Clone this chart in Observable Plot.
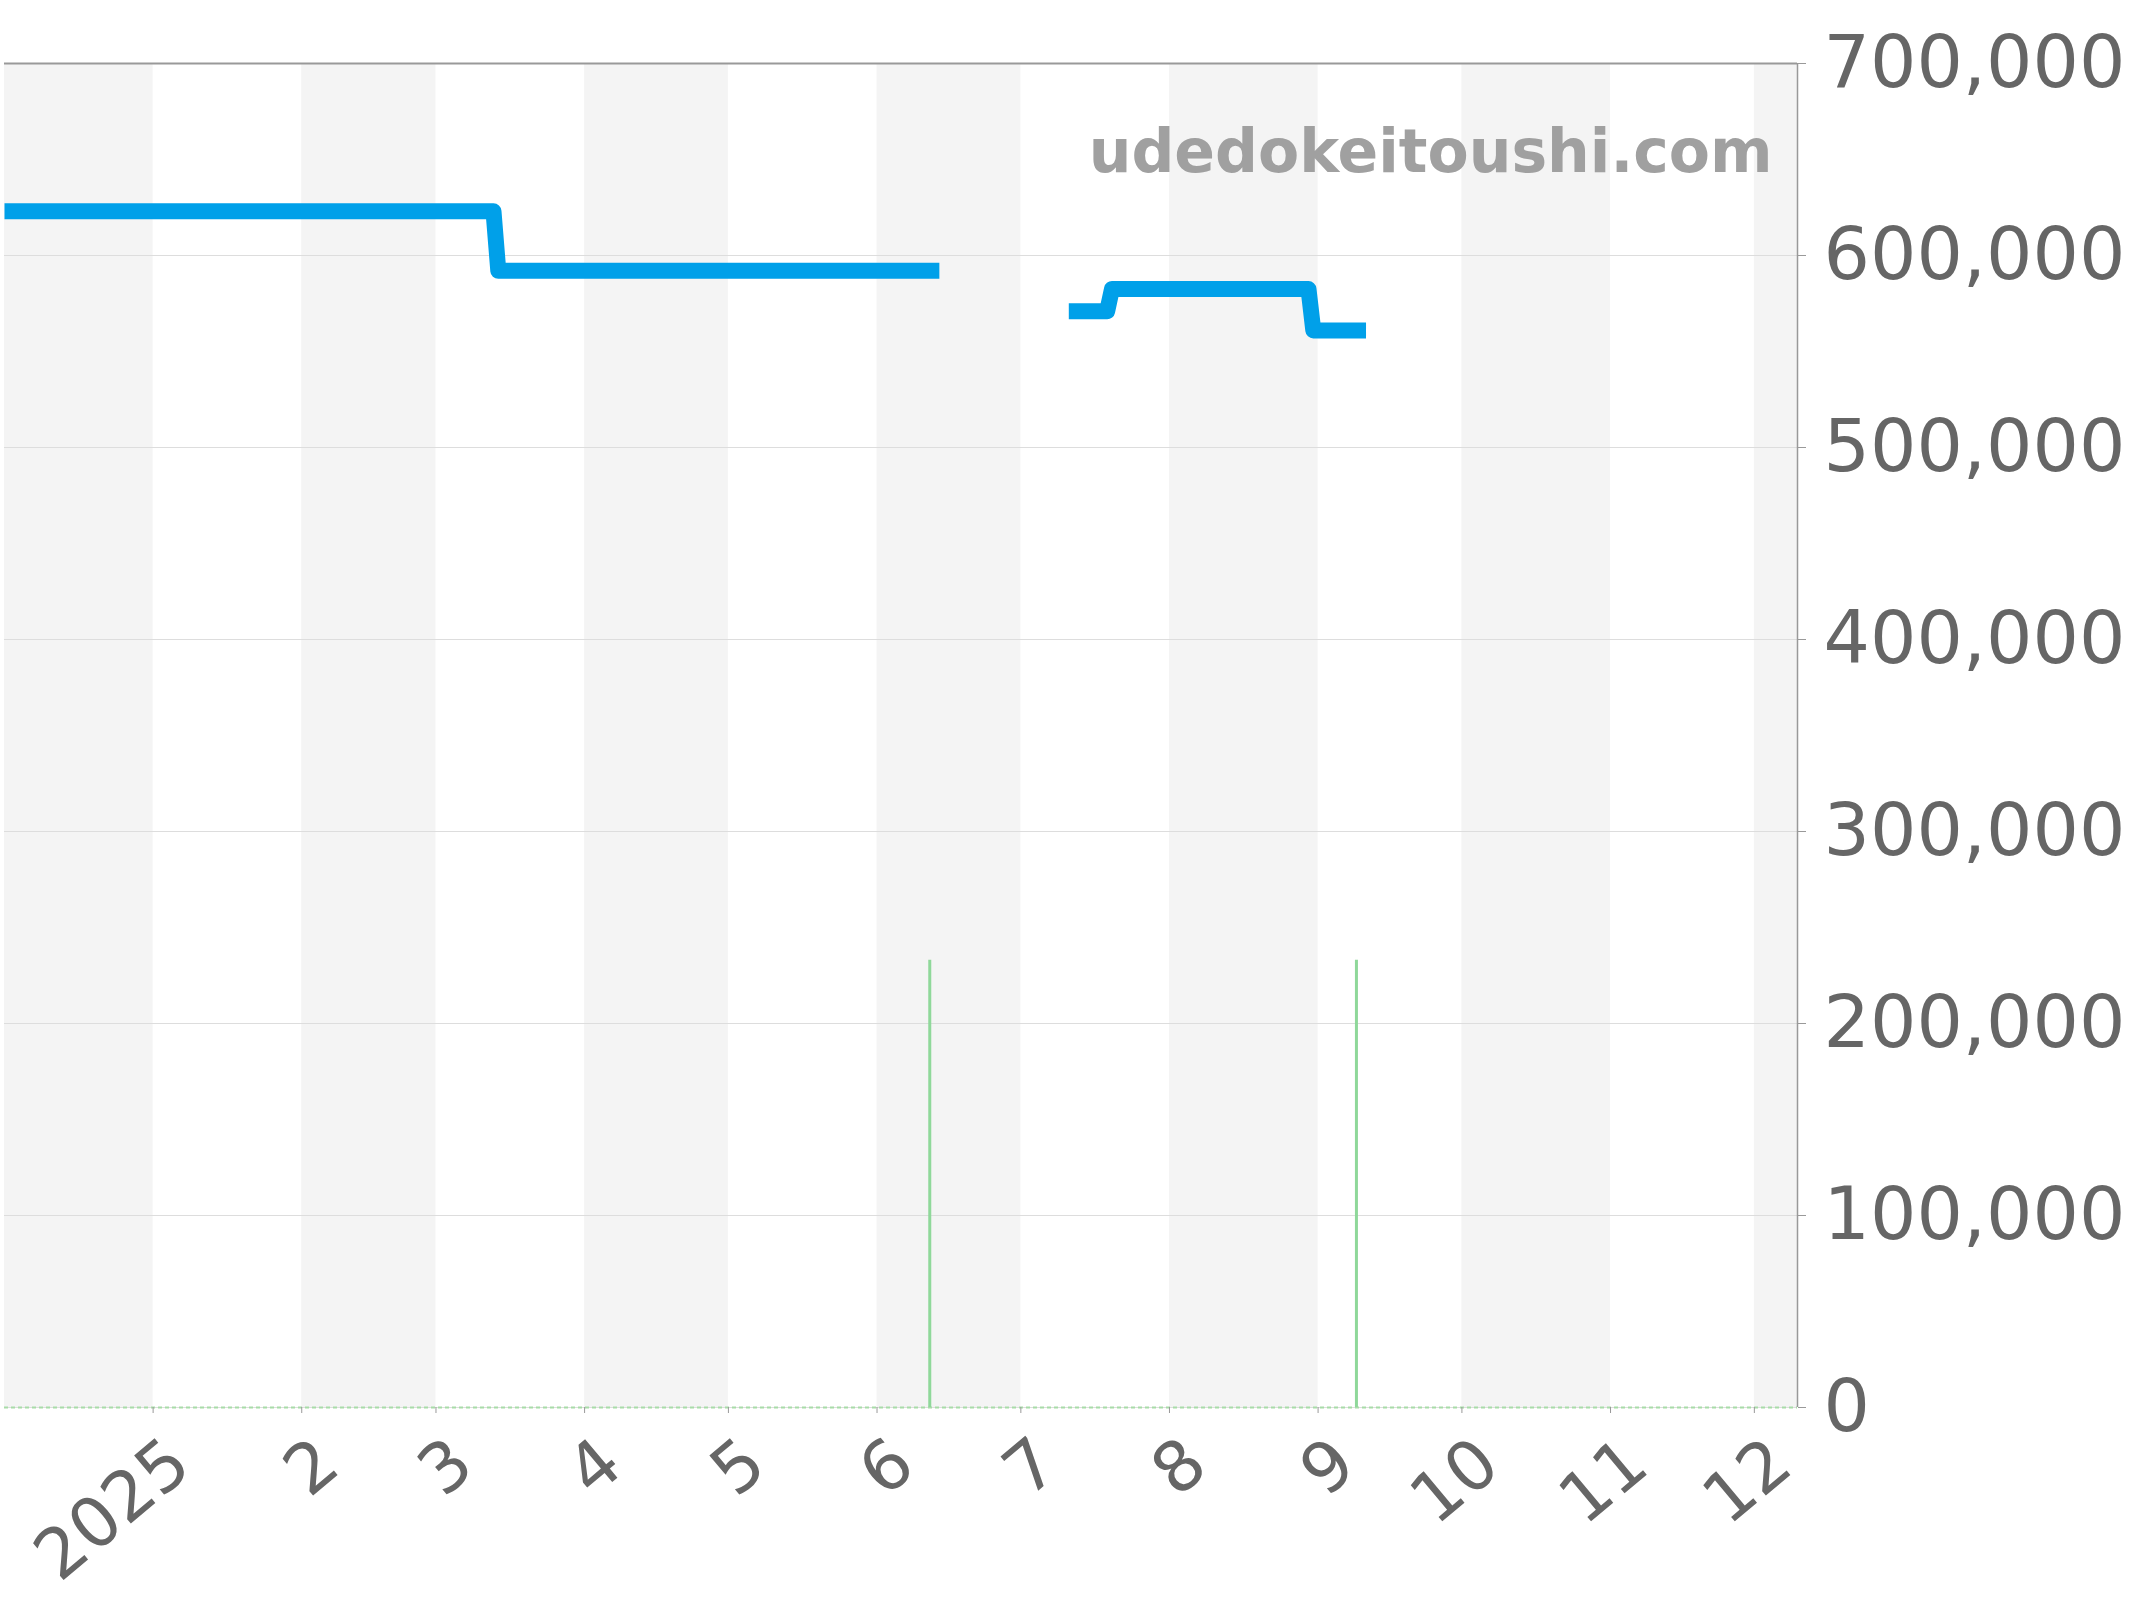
<!DOCTYPE html>
<html>
<head>
<meta charset="utf-8">
<script src="https://cdn.jsdelivr.net/npm/d3@7"></script>
<script src="https://cdn.jsdelivr.net/npm/@observablehq/plot@0.6"></script>
<style>
  html, body { margin: 0; padding: 0; background: #fff; }
  #chart svg { display: block; }
</style>
</head>
<body>
<div id="chart"></div>
<script>
// ---- data ----
const priceDates  = ["2024-12-01", "2025-03-13", "2025-03-14", "2025-06-14", "2025-06-15",
                     "2025-07-11", "2025-07-19", "2025-07-20", "2025-08-30", "2025-08-31", "2025-09-11"];
const priceValues = [623000, 623000, 592000, 592000, NaN,
                     571000, 571000, 582500, 582500, 561000, 561000];

const volumeDates  = ["2025-06-12", "2025-09-09"];
const volumeValues = [233000, 233000];

const monthTicks  = ["2025-01-01", "2025-02-01", "2025-03-01", "2025-04-01", "2025-05-01", "2025-06-01",
                     "2025-07-01", "2025-08-01", "2025-09-01", "2025-10-01", "2025-11-01", "2025-12-01"];
const monthLabels = ["2025", "2", "3", "4", "5", "6", "7", "8", "9", "10", "11", "12"];

const bandStarts = ["2024-12-01", "2025-02-01", "2025-04-01", "2025-06-01", "2025-08-01", "2025-10-01", "2025-12-01"];
const bandEnds   = ["2025-01-01", "2025-03-01", "2025-05-01", "2025-07-01", "2025-09-01", "2025-11-01", "2025-12-10"];

const yTicks = [0, 100000, 200000, 300000, 400000, 500000, 600000, 700000];
const watermark = "udedokeitoushi.com";

// ---- build ----
const parse = d3.utcParse("%Y-%m-%d");
const domainStart = parse("2024-12-01");
const domainEnd = parse("2025-12-10");

const price = priceDates.map((d, i) => ({date: parse(d), value: priceValues[i]}));
const volume = volumeDates.map((d, i) => ({date: parse(d), value: volumeValues[i]}));
const months = monthTicks.map((d, i) => ({date: parse(d), label: monthLabels[i]}));
const bands = bandStarts.map((d, i) => ({x1: parse(d), x2: parse(bandEnds[i])}));

const chart = Plot.plot({
  width: 2144,
  height: 1600,
  marginTop: 63,
  marginBottom: 193,
  marginLeft: 4,
  marginRight: 347,
  style: {fontFamily: "DejaVu Sans", color: "#666", background: "#fff"},
  x: {type: "utc", domain: [domainStart, domainEnd]},
  y: {domain: [0, 700000]},
  marks: [
    Plot.rect(bands, {x1: "x1", x2: "x2", y1: 0, y2: 700000, fill: "#f4f4f4"}),
    Plot.gridY(yTicks, {stroke: "#dddddd", strokeOpacity: 1, strokeWidth: 1}),
    Plot.ruleY([0], {stroke: "#a8dca8", strokeWidth: 2, strokeDasharray: "4,3"}),
    Plot.ruleX(volume, {x: "date", y1: 0, y2: "value", stroke: "#8fd89a", strokeWidth: 3}),
    Plot.line(price, {x: "date", y: "value", stroke: "#00a0e9", strokeWidth: 16,
                      strokeLinejoin: "round", strokeLinecap: "butt", defined: d => !isNaN(d.value)}),
    Plot.ruleY([700000], {stroke: "#999", strokeWidth: 2}),
    Plot.ruleX([domainEnd], {y1: 0, y2: 700000, stroke: "#999", strokeWidth: 1.5}),
    Plot.axisY({anchor: "right", ticks: yTicks, tickFormat: d3.format(","), tickSize: 8,
                tickPadding: 18, fontSize: 73, stroke: "#999", fill: "#666", label: null}),
    Plot.axisX({ticks: months.map(d => d.date), tickFormat: () => "", tickSize: 6,
                stroke: "#999", label: null}),
    Plot.text(months, {x: "date", text: "label", frameAnchor: "bottom", rotate: -40,
                       textAnchor: "end", lineAnchor: "middle", dx: 27, dy: 46,
                       fontSize: 69, fill: "#666"}),
    Plot.text([watermark], {frameAnchor: "top-right", textAnchor: "end", lineAnchor: "bottom",
                            dx: -25, dy: 108, fontSize: 60, fontWeight: "bold", fill: "#a0a0a0"})
  ]
});
document.getElementById("chart").appendChild(chart);
</script>
</body>
</html>
